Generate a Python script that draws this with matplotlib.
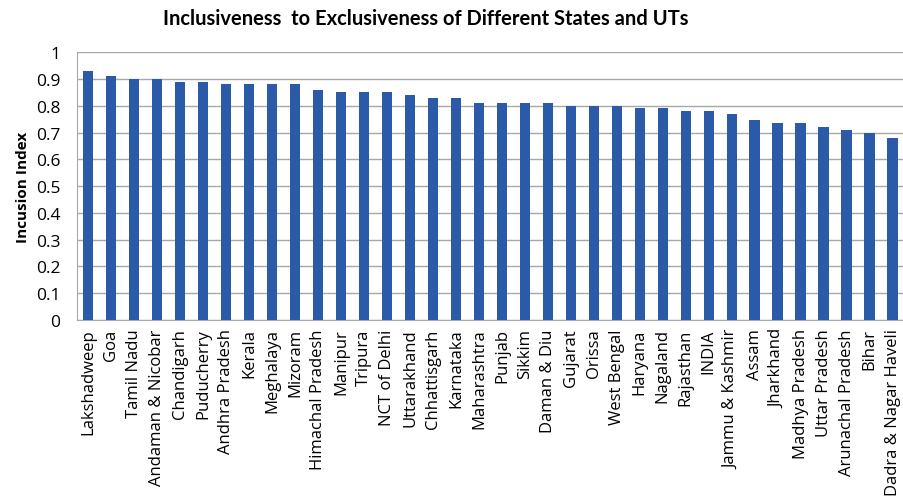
import matplotlib.pyplot as plt

states = ["Lakshadweep", "Goa", "Tamil Nadu", "Andaman & Nicobar", "Chandigarh",
          "Puducherry", "Andhra Pradesh", "Kerala", "Meghalaya", "Mizoram",
          "Himachal Pradesh", "Manipur", "Tripura", "NCT of Delhi", "Uttarakhand",
          "Chhattisgarh", "Karnataka", "Maharashtra", "Punjab", "Sikkim",
          "Daman & Diu", "Gujarat", "Orissa", "West Bengal", "Haryana",
          "Nagaland", "Rajasthan", "INDIA", "Jammu & Kashmir", "Assam",
          "Jharkhand", "Madhya Pradesh", "Uttar Pradesh", "Arunachal Pradesh",
          "Bihar", "Dadra & Nagar Haveli"]
inclusion = [0.93, 0.91, 0.90, 0.90, 0.89, 0.89, 0.88, 0.88, 0.88, 0.88,
             0.86, 0.85, 0.85, 0.85, 0.84, 0.83, 0.83, 0.81, 0.81, 0.81,
             0.81, 0.80, 0.80, 0.80, 0.79, 0.79, 0.78, 0.78, 0.77, 0.745,
             0.735, 0.735, 0.72, 0.71, 0.70, 0.68]
yticks = [0, 0.1, 0.2, 0.3, 0.4, 0.5, 0.6, 0.7, 0.8, 0.9, 1]
ytick_labels = ["0", "0.1", "0.2", "0.3", "0.4", "0.5", "0.6", "0.7", "0.8", "0.9", "1"]

plt.rcParams['font.family'] = ['Open Sans', 'DejaVu Sans']

fig = plt.figure(figsize=(9.04, 5.02), dpi=100)
ax = fig.add_axes([0.085, 0.3606, 0.915, 0.5334])

x = range(len(states))
ax.bar(x, inclusion, width=0.45, color='#2a5aa8', zorder=3)

ax.set_xlim(-0.5, len(states) - 0.5)
ax.set_ylim(0, 1)
ax.set_yticks(yticks)
ax.set_yticklabels(ytick_labels, fontsize=12.5)
ax.set_xticks(list(x))
ax.set_xticklabels(states, rotation=90, fontsize=12)
ax.tick_params(axis='y', length=0, pad=12)
ax.tick_params(axis='x', length=0, pad=6)

ax.grid(axis='y', color='#a8a8a8', linewidth=1, zorder=0)
for side in ['top', 'right']:
    ax.spines[side].set_visible(False)
ax.spines['left'].set_color('#a8a8a8')
ax.spines['bottom'].set_color('#a8a8a8')

ax.set_ylabel("Incusion Index", fontsize=11, fontweight='bold', labelpad=4)
fig.text(0.4705, 0.962, "Inclusiveness  to Exclusiveness of Different States and UTs",
         ha='center', va='center', fontsize=14.5, fontweight='bold', family='Lato')

fig.savefig("out.png", dpi=100)
